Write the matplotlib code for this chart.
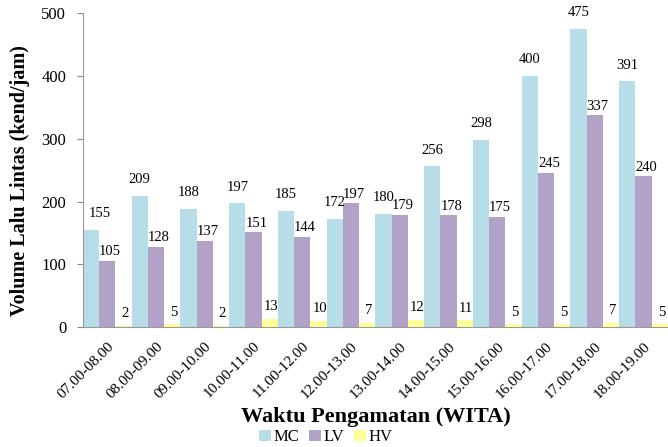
import numpy as np
import matplotlib.pyplot as plt

plt.rcParams['font.family'] = ['Liberation Serif', 'DejaVu Serif']

waktu = ['07.00-08.00', '08.00-09.00', '09.00-10.00', '10.00-11.00',
         '11.00-12.00', '12.00-13.00', '13.00-14.00', '14.00-15.00',
         '15.00-16.00', '16.00-17.00', '17.00-18.00', '18.00-19.00']
mc = [155, 209, 188, 197, 185, 172, 180, 256, 298, 400, 475, 391]
lv = [105, 128, 137, 151, 144, 197, 179, 178, 175, 245, 337, 240]
hv = [2, 5, 2, 13, 10, 7, 12, 11, 5, 5, 7, 5]

series = [('MC', mc, '#B7DDE8'), ('LV', lv, '#B3A2C7'), ('HV', hv, '#FFFF99')]
label_offset = [(0, 7), (2, 2), (1, 4)]  # points, per series

fig = plt.figure(figsize=(6.68, 4.47), dpi=100)
ax = fig.add_axes([0.124, 0.268, 0.876, 0.703])

x = np.arange(len(waktu))
w = 1 / 3
for i, (name, vals, col) in enumerate(series):
    pos = x - w + i * w
    ax.bar(pos, vals, width=w, color=col, label=name, linewidth=0)
    dx, dy = label_offset[i]
    for j, (xb, v) in enumerate(zip(pos, vals)):
        # first label nudged right so it clears the axis, like the original
        nx = 6 if (i == 0 and j == 0) else dx
        ax.annotate(str(v), (xb, v), xytext=(nx, dy), textcoords='offset points',
                    ha='center', va='bottom', fontsize=10.5)

ax.set_xlim(-0.5, len(waktu) - 0.5)
ax.set_ylim(0, 500)
ax.set_yticks(range(0, 501, 100))
ax.set_xticks(x)
ax.set_xticklabels(waktu, rotation=45, ha='right', rotation_mode='anchor', fontsize=11)
ax.tick_params(axis='x', length=0, pad=9)
ax.tick_params(axis='y', labelsize=12, length=4, color='#888888', pad=8)

for s in ['top', 'right']:
    ax.spines[s].set_visible(False)
for s in ['left', 'bottom']:
    ax.spines[s].set_color('#999999')

ax.set_ylabel('Volume Lalu Lintas (kend/jam)', fontsize=14.5, fontweight='bold')
ax.yaxis.set_label_coords(-0.09, 0.468)
ax.set_xlabel('Waktu Pengamatan (WITA)', fontsize=16, fontweight='bold')
ax.xaxis.set_label_coords(0.5, -0.255)

ax.legend(loc='center', bbox_to_anchor=(0.415, -0.35), ncol=3, frameon=False,
          fontsize=12, handlelength=0.7, handleheight=0.7, handletextpad=0.15,
          columnspacing=0.6, borderaxespad=0, borderpad=0)

fig.savefig('out.png', dpi=100)
